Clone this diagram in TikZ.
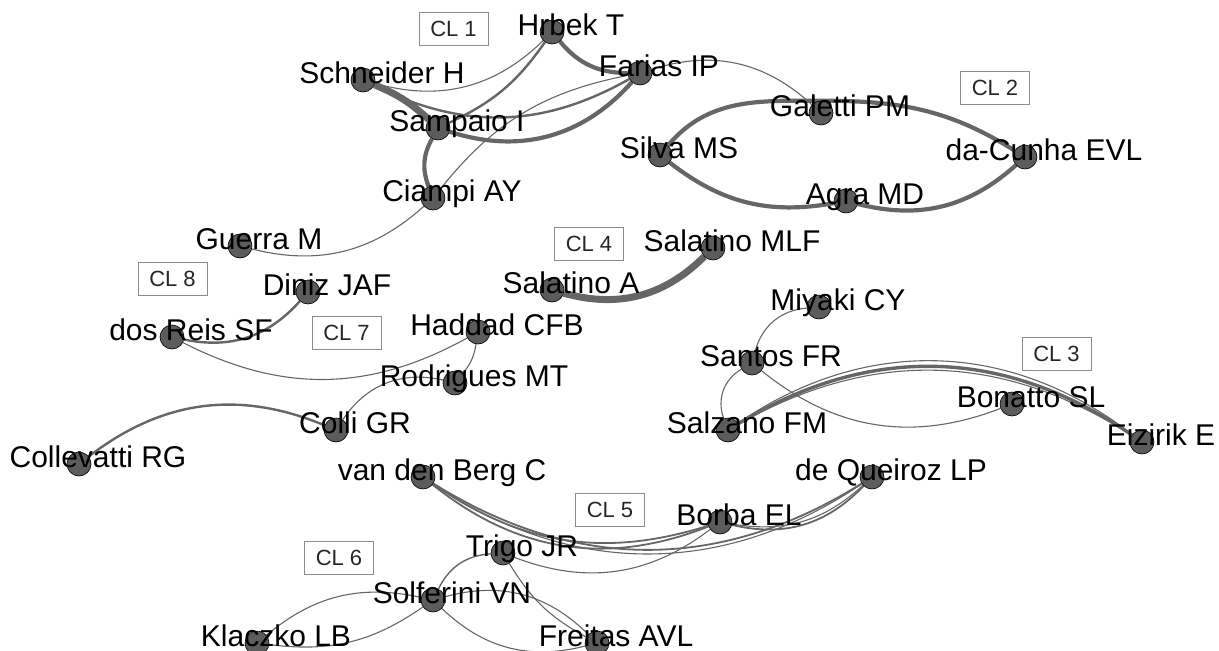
\documentclass[tikz,border=0pt]{standalone}
\usepackage{fontspec}
\setmainfont{Liberation Sans}
\usetikzlibrary{calc,positioning,backgrounds}
\definecolor{linkgray}{gray}{0.4}
\definecolor{dotgray}{gray}{0.36}
\definecolor{boxgray}{gray}{0.55}

\begin{document}
\begin{tikzpicture}[x=1pt,y=1pt,
    author/.style={circle,draw=black,line width=0.6pt,fill=dotgray,minimum size=24pt,inner sep=0pt},
    aulabel/.style={font=\fontsize{30}{30}\selectfont,inner sep=0pt,text height=21.5pt,text depth=0pt},
    cluster/.style={draw=boxgray,line width=0.9pt,text=black!85,font=\fontsize{22}{22}\selectfont,minimum width=69pt,minimum height=33pt,inner sep=0pt},
    weaklink/.style={draw=linkgray,line width=1.1pt},
    midlink/.style={draw=linkgray,line width=2.4pt},
    stronglink/.style={draw=linkgray,line width=4.2pt},
    heavylink/.style={draw=linkgray,line width=7pt}]
    \clip (0,0) rectangle (1219,-651);
    % authors
    \node[author] (Hrbek) at (552,-32) {};
    \node[author] (Farias) at (640,-73) {};
    \node[author] (Schneider) at (363,-80) {};
    \node[author] (Sampaio) at (438,-128) {};
    \node[author] (Ciampi) at (433,-198) {};
    \node[author] (Guerra) at (240,-246) {};
    \node[author] (Galetti) at (821,-113) {};
    \node[author] (Silva) at (660,-155) {};
    \node[author] (DaCunha) at (1025,-157) {};
    \node[author] (Agra) at (846,-201) {};
    \node[author] (SalatinoMLF) at (713,-248) {};
    \node[author] (SalatinoA) at (552,-290) {};
    \node[author] (Diniz) at (308,-292) {};
    \node[author] (DosReis) at (172,-337) {};
    \node[author] (Haddad) at (478,-332) {};
    \node[author] (Rodrigues) at (455,-383) {};
    \node[author] (Colli) at (336,-430) {};
    \node[author] (Collevatti) at (79,-464) {};
    \node[author] (Miyaki) at (819,-307) {};
    \node[author] (Santos) at (752,-363) {};
    \node[author] (Salzano) at (728,-430) {};
    \node[author] (Bonatto) at (1012,-404) {};
    \node[author] (Eizirik) at (1142,-442) {};
    \node[author] (VanDenBerg) at (423,-477) {};
    \node[author] (DeQueiroz) at (872,-477) {};
    \node[author] (Borba) at (720,-522) {};
    \node[author] (Trigo) at (503,-553) {};
    \node[author] (Solferini) at (433,-600) {};
    \node[author] (Klaczko) at (257,-643) {};
    \node[author] (Freitas) at (597,-643) {};
    %
    \begin{scope}[on background layer]
    % CL 1
    \draw[stronglink] (Hrbek) to[bend right=25] (Farias);
    \draw[weaklink] (Schneider) to[bend right=30] (Hrbek);
    \draw[midlink] (Sampaio) to[bend right=15] (Hrbek);
    \draw[midlink] (Schneider) to[bend right=28] (Farias);
    \draw[stronglink] (Sampaio) to[bend right=33] (Farias);
    \draw[heavylink] (Schneider) to[bend left=10] (Sampaio);
    \draw[stronglink] (Sampaio) to[bend right=25] (Ciampi);
    \draw[weaklink] (Ciampi) to[bend left=20] (Farias);
    \draw[weaklink] (Farias) to[bend left=30] (Galetti);
    \draw[weaklink] (Guerra) to[bend right=28] (Ciampi);
    % CL 2
    \draw[stronglink] (Silva) to[out=50,in=180] (Galetti.north);
    \draw[stronglink] (Galetti.north) to[out=0,in=148] (DaCunha);
    \draw[stronglink] (Silva) to[bend right=24] (Agra);
    \draw[stronglink] (Agra) to[bend right=28] (DaCunha);
    % CL 4
    \draw[heavylink] (SalatinoA) to[bend right=30] (SalatinoMLF);
    % CL 8
    \draw[midlink] (DosReis) to[bend right=30] (Diniz);
    % CL 7
    \draw[weaklink] (DosReis) to[bend right=28] (Haddad);
    \draw[weaklink] (Haddad) to[bend left=15] (Rodrigues);
    \draw[weaklink] (Colli) to[bend left=35] (Rodrigues);
    \draw[midlink] (Collevatti) to[bend left=30] (Colli);
    % CL 3
    \draw[weaklink] (Miyaki) to[bend right=35] (Santos);
    \draw[weaklink] (Santos) to[bend right=40] (Salzano);
    \draw[weaklink] (Santos) to[bend right=30] (Bonatto);
    \draw[stronglink,line width=3.4pt] (Salzano) to[bend left=33] (Eizirik);
    \draw[weaklink] (Salzano) to[bend left=31] (Eizirik);
    \draw[weaklink] (Salzano) to[bend left=36] (Eizirik);
    % CL 5
    \draw[midlink,line width=1.8pt] (VanDenBerg) to[bend right=26] (Borba);
    \draw[midlink,line width=1.8pt] (VanDenBerg) to[bend right=30] (Borba);
    \draw[midlink,line width=1.8pt] (VanDenBerg) to[bend right=32] (DeQueiroz);
    \draw[weaklink] (VanDenBerg) to[bend right=34] (DeQueiroz);
    \draw[midlink,line width=1.8pt] (Borba) to[bend right=30] (DeQueiroz);
    \draw[weaklink] (Borba) to[bend right=26] (DeQueiroz);
    \draw[weaklink] (Trigo) to[bend right=29] (Borba);
    % CL 6
    \draw[weaklink,line width=1.4pt] (Trigo) to[bend right=30] (Solferini);
    \draw[weaklink] (Trigo) to[bend right=15] (Freitas);
    \draw[weaklink] (Solferini) to[bend right=26] (Klaczko);
    \draw[weaklink] (Solferini) to[bend left=21] (Klaczko);
    \draw[weaklink] (Solferini) to[bend left=30] (Freitas);
    \draw[weaklink] (Solferini) to[bend right=29] (Freitas);
    \end{scope}
    %
    \node[aulabel] (Hrbek-txt) at ($(Hrbek)+(19,7)$) {Hrbek T};
    \node[aulabel] (Farias-txt) at ($(Farias)+(19,7)$) {Farias IP};
    \node[aulabel] (Schneider-txt) at ($(Schneider)+(19,7)$) {Schneider H};
    \node[aulabel] (Sampaio-txt) at ($(Sampaio)+(19,7)$) {Sampaio I};
    \node[aulabel] (Ciampi-txt) at ($(Ciampi)+(19,7)$) {Ciampi AY};
    \node[aulabel] (Guerra-txt) at ($(Guerra)+(19,7)$) {Guerra M};
    \node[aulabel] (Galetti-txt) at ($(Galetti)+(19,7)$) {Galetti PM};
    \node[aulabel] (Silva-txt) at ($(Silva)+(19,7)$) {Silva MS};
    \node[aulabel] (DaCunha-txt) at ($(DaCunha)+(19,7)$) {da-Cunha EVL};
    \node[aulabel] (Agra-txt) at ($(Agra)+(19,7)$) {Agra MD};
    \node[aulabel] (SalatinoMLF-txt) at ($(SalatinoMLF)+(19,7)$) {Salatino MLF};
    \node[aulabel] (SalatinoA-txt) at ($(SalatinoA)+(19,7)$) {Salatino A};
    \node[aulabel] (Diniz-txt) at ($(Diniz)+(19,7)$) {Diniz JAF};
    \node[aulabel] (DosReis-txt) at ($(DosReis)+(19,7)$) {dos Reis SF};
    \node[aulabel] (Haddad-txt) at ($(Haddad)+(19,7)$) {Haddad CFB};
    \node[aulabel] (Rodrigues-txt) at ($(Rodrigues)+(19,7)$) {Rodrigues MT};
    \node[aulabel] (Colli-txt) at ($(Colli)+(19,7)$) {Colli GR};
    \node[aulabel] (Collevatti-txt) at ($(Collevatti)+(19,7)$) {Collevatti RG};
    \node[aulabel] (Miyaki-txt) at ($(Miyaki)+(19,7)$) {Miyaki CY};
    \node[aulabel] (Santos-txt) at ($(Santos)+(19,7)$) {Santos FR};
    \node[aulabel] (Salzano-txt) at ($(Salzano)+(19,7)$) {Salzano FM};
    \node[aulabel] (Bonatto-txt) at ($(Bonatto)+(19,7)$) {Bonatto SL};
    \node[aulabel] (Eizirik-txt) at ($(Eizirik)+(19,7)$) {Eizirik E};
    \node[aulabel] (VanDenBerg-txt) at ($(VanDenBerg)+(19,7)$) {van den Berg C};
    \node[aulabel] (DeQueiroz-txt) at ($(DeQueiroz)+(19,7)$) {de Queiroz LP};
    \node[aulabel] (Borba-txt) at ($(Borba)+(19,7)$) {Borba EL};
    \node[aulabel] (Trigo-txt) at ($(Trigo)+(19,7)$) {Trigo JR};
    \node[aulabel] (Solferini-txt) at ($(Solferini)+(19,7)$) {Solferini VN};
    \node[aulabel] (Klaczko-txt) at ($(Klaczko)+(19,7)$) {Klaczko LB};
    \node[aulabel] (Freitas-txt) at ($(Freitas)+(19,7)$) {Freitas AVL};
    % cluster tags
    \node[cluster] (CL1) at (453.5,-28.5) {CL 1};
    \node[cluster] (CL2) at (995,-88) {CL 2};
    \node[cluster] (CL3) at (1056.5,-354) {CL 3};
    \node[cluster] (CL4) at (589,-243.5) {CL 4};
    \node[cluster] (CL5) at (610,-510) {CL 5};
    \node[cluster] (CL6) at (339,-558) {CL 6};
    \node[cluster] (CL7) at (346.5,-332.5) {CL 7};
    \node[cluster] (CL8) at (172.5,-279) {CL 8};
\end{tikzpicture}
\end{document}
